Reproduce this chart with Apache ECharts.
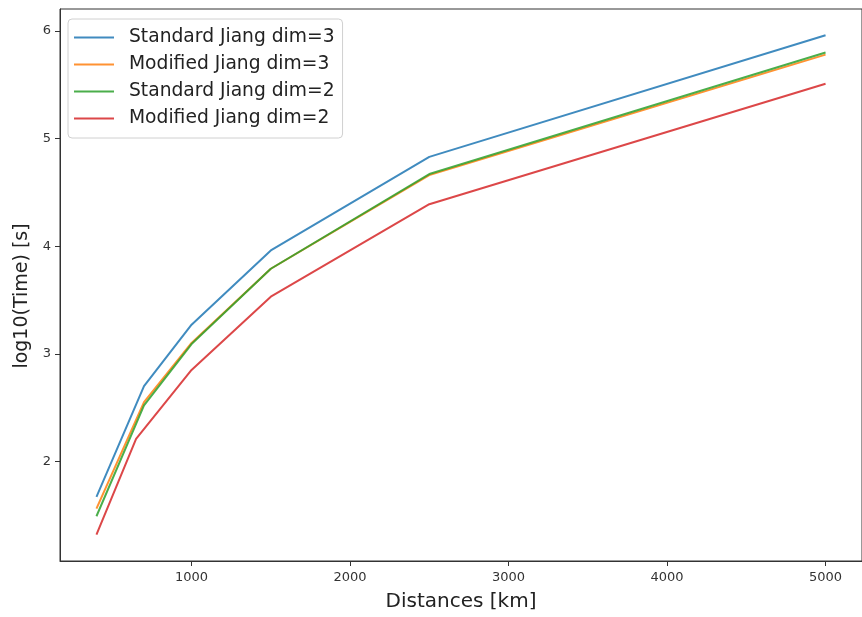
<!DOCTYPE html>
<html>
<head>
<meta charset="utf-8">
<script src="https://cdn.jsdelivr.net/npm/echarts@6/dist/echarts.min.js"></script>
<style>html,body{margin:0;padding:0;background:#fff;}#c{width:862px;height:617px;}</style>
</head>
<body>
<div id="c"></div>
<script>
const seriesNames = ["Standard Jiang dim=3", "Modified Jiang dim=3", "Standard Jiang dim=2", "Modified Jiang dim=2"];
const xStd3 = [400, 700, 1000, 1500, 2500, 5000];
const yStd3 = [1.67, 2.70, 3.27, 3.96, 4.83, 5.96];
const xMod3 = [400, 700, 1000, 1500, 2500, 5000];
const yMod3 = [1.56, 2.55, 3.10, 3.79, 4.66, 5.78];
const xStd2 = [400, 700, 1000, 1500, 2500, 5000];
const yStd2 = [1.49, 2.52, 3.09, 3.79, 4.67, 5.80];
const xMod2 = [400, 650, 1000, 1500, 2500, 5000];
const yMod2 = [1.32, 2.21, 2.85, 3.53, 4.39, 5.51];
const xTicks = [1000, 2000, 3000, 4000, 5000];
const yTicks = [2, 3, 4, 5, 6];
const colors = ["#1f77b4", "#ff7f0e", "#2ca02c", "#d62728"];

const zip = (xs, ys) => xs.map((x, i) => [x, ys[i]]);
const allData = [zip(xStd3, yStd3), zip(xMod3, yMod3), zip(xStd2, yStd2), zip(xMod2, yMod2)];

const chart = echarts.init(document.getElementById('c'), null, {renderer: 'canvas'});
const font = 'DejaVu Sans';
chart.setOption({
  animation: false,
  backgroundColor: '#fff',
  grid: {left: 60, top: 9, width: 810, height: 554, show: true, borderColor: '#333', borderWidth: 1, backgroundColor: 'transparent'},
  xAxis: {
    type: 'value', min: 170, max: 5230,
    axisLine: {show: true, onZero: false, lineStyle: {color: '#333', width: 1}},
    axisTick: {show: true, inside: false, length: 5, lineStyle: {color: '#333'}, customValues: xTicks},
    axisLabel: {show: true, color: '#333', fontFamily: font, fontSize: 13, margin: 10, customValues: xTicks,
      formatter: v => String(v)},
    splitLine: {show: false},
    name: 'Distances [km]', nameLocation: 'middle', nameGap: 31,
    nameTextStyle: {fontFamily: font, fontSize: 20, color: '#222'}
  },
  yAxis: {
    type: 'value', min: 1.074, max: 6.204,
    axisLine: {show: true, onZero: false, lineStyle: {color: '#333', width: 1}},
    axisTick: {show: true, inside: false, length: 5, lineStyle: {color: '#333'}, customValues: yTicks},
    axisLabel: {show: true, color: '#333', fontFamily: font, fontSize: 13, margin: 9, customValues: yTicks,
      formatter: v => String(v)},
    splitLine: {show: false},
    name: 'log10(Time) [s]', nameLocation: 'middle', nameGap: 28,
    nameTextStyle: {fontFamily: font, fontSize: 19, color: '#222', padding: [0, 22, 0, 0]}
  },
  legend: {
    orient: 'vertical', left: 68, top: 19,
    data: seriesNames,
    icon: 'rect', itemWidth: 40, itemHeight: 2, itemGap: 8,
    padding: [9, 8, 10, 6],
    backgroundColor: 'rgba(255,255,255,0.8)', borderColor: '#d0d0d0', borderWidth: 1, borderRadius: 4,
    textStyle: {fontFamily: font, fontSize: 18.7, color: '#222', lineHeight: 19, padding: [0, 0, 0, 10]}
  },
  series: seriesNames.map((n, i) => ({
    name: n, type: 'line', data: allData[i], symbol: 'none',
    lineStyle: {color: colors[i], width: 2, opacity: 0.85},
    itemStyle: {color: colors[i], opacity: 0.85},
    z: 2 + i
  }))
});
</script>
</body>
</html>
